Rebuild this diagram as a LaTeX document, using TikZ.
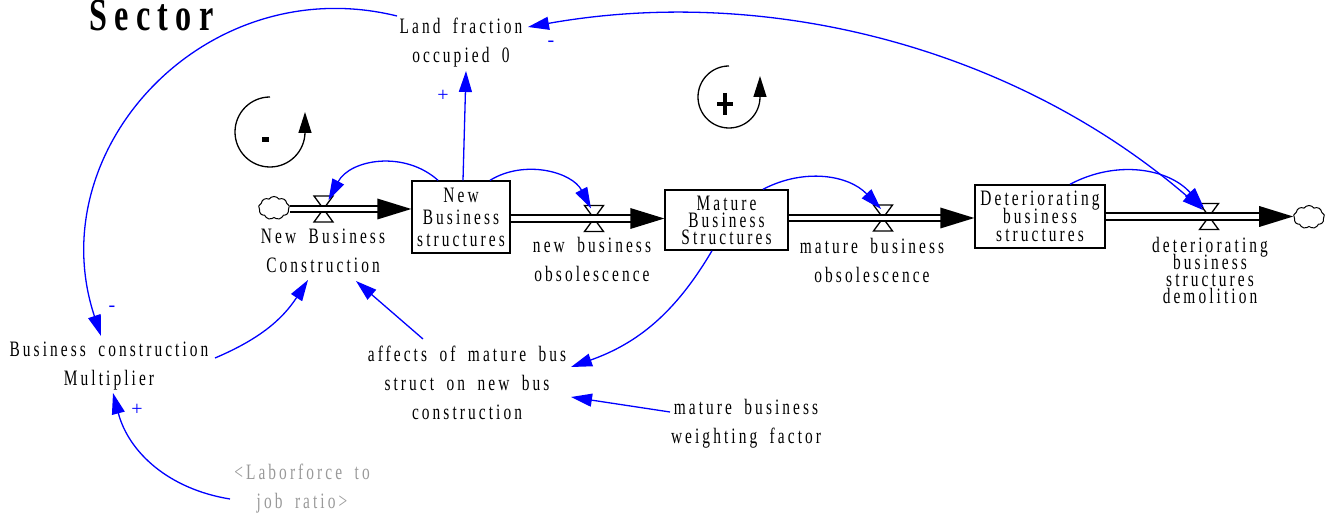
\documentclass[tikz,border=0pt]{standalone}
\usepackage{fontspec}
\setmainfont{Liberation Serif}
\newfontfamily\vfont[FakeStretch=0.7,LetterSpace=14,WordSpace=1.8]{Liberation Serif}
\newfontfamily\tfont[FakeStretch=0.7,LetterSpace=16]{Liberation Serif}
\usetikzlibrary{arrows.meta,shapes.symbols,calc}
\lineskiplimit=-40pt
\begin{document}
\begin{tikzpicture}[x=1pt,y=-1pt,
  lbl/.style={font=\vfont\fontsize{22}{29}\selectfont, align=center, inner sep=0pt},
  stock/.style={draw, line width=1.4pt, inner sep=0pt, align=center},
  pipe/.style={draw=black, line width=1.8pt, double=white, double distance=4.5pt},
  link/.style={draw=blue, line width=1.3pt, -{Triangle[length=21pt,width=13pt]}},
  sign/.style={text=blue, font=\fontsize{20}{20}\selectfont, inner sep=0pt},
  cloudsym/.style={cloud, cloud puffs=9, cloud puff arc=110, aspect=1.3, draw, line width=1pt,
    minimum width=31pt, minimum height=23pt, inner sep=0pt},
  loopline/.style={draw=black, line width=1.3pt, -{Triangle[length=21pt,width=13pt]}},
  valve/.pic={\draw[line width=1.3pt, fill=white, line join=miter]
    (-9.5,-13) -- (9.5,-13) -- (-9.5,13) -- (9.5,13) -- cycle;}
]
\useasboundingbox (0,0) rectangle (1330,518);

% title
\node[font=\tfont\bfseries\fontsize{46}{46}\selectfont, anchor=base west, inner sep=0pt] (title) at (89,31) {Sector};

% stocks
\node[stock, minimum width=98pt, minimum height=72pt, font=\vfont\fontsize{22}{22}\selectfont] (nbs) at (461,217) {New\\Business\\structures};
\node[stock, minimum width=123pt, minimum height=60pt, font=\vfont\fontsize{22}{17}\selectfont] (mbs) at (726.5,220) {Mature\\Business\\Structures};
\node[stock, minimum width=130pt, minimum height=63pt, font=\vfont\fontsize{22}{18}\selectfont] (dbs) at (1040,216.5) {Deteriorating\\business\\structures};

% clouds
\node[cloudsym] (c1) at (274,208) {};
\node[cloudsym] (c2) at (1309,217) {};

% valves
\coordinate (v1) at (323.5,209);
\coordinate (v2) at (594,218.5);
\coordinate (v3) at (883,218);
\coordinate (v4) at (1209,216.5);
\foreach \v in {v1,v2,v3,v4} \pic at (\v) {valve};

% pipes with flow arrowheads
\coordinate (t1) at (nbs.west |- v1);
\coordinate (t2) at (mbs.west |- v2);
\coordinate (t3) at (dbs.west |- v3);
\coordinate (t4) at (c2.west |- v4);
\draw[pipe] (c1.east |- v1) -- ($(t1)+(-30,0)$);
\draw[pipe] (nbs.east |- v2) -- ($(t2)+(-30,0)$);
\draw[pipe] (mbs.east |- v3) -- ($(t3)+(-30,0)$);
\draw[pipe] (dbs.east |- v4) -- ($(t4)+(-30,0)$);
\foreach \t in {t1,t2,t3,t4}
  \fill ($(\t)+(-34,-10.5)$) -- (\t) -- ($(\t)+(-34,10.5)$) -- cycle;

% auxiliary variables
\node[lbl] (landfrac) at (461,43) {Land fraction\\occupied 0};
\node[lbl] (nbc) at (323,251) {New Business\\Construction};
\node[lbl] (nbo) at (592,259) {new business\\obsolescence};
\node[lbl] (mbo) at (872,260) {mature business\\obsolescence};
\node[lbl, font=\vfont\fontsize{22}{17}\selectfont] (dbsd) at (1210,270) {deteriorating\\business\\structures\\demolition};
\node[lbl] (bcm) at (109,366) {Business construction\\Multiplier};
\node[lbl] (affects) at (467,383) {affects of mature bus\\struct on new bus\\construction};
\node[lbl] (mbwf) at (746,424) {mature business\\weighting factor};
\node[lbl, text=black!40] (labor) at (302,489) {<Laborforce to\\job ratio>};

% causal links
\draw[link] ($(nbs.north)+(-23,0)$) to[bend right=52, looseness=1.05] ($(v1)+(5,-9)$);
\draw[link] ($(nbs.north)+(29,0)$) to[bend left=47] ($(v2)+(-3,-10)$);
\draw[link] ($(mbs.north)+(36.5,0)$) to[bend left=37] ($(v3)+(-2,-9)$);
\draw[link] ($(dbs.north)+(30,0)$) to[bend left=38] ($(v4)+(-5,-8.5)$);
\draw[link] ($(nbs.north)+(2,0)$) -- ($(landfrac.center)+(5,28)$);
\draw[link] ($(landfrac.center)+(-64,-27)$) .. controls (206,-31) and (39,149) .. ($(bcm.center)+(-8,-30)$);
\draw[link, {Triangle[length=21pt,width=13pt]}-{Triangle[length=21pt,width=13pt]}]
  ($(landfrac.center)+(67,-16)$) .. controls (770,-16) and (1016,49) .. ($(v4)+(-6,-6.5)$);
\draw[link] ($(mbs.south)+(-14.5,0)$) to[bend left=20] ($(affects.center)+(104,-16)$);
\draw[link] ($(affects.center)+(-44,-44)$) -- ($(nbc.center)+(33,30)$);
\draw[link] ($(bcm.center)+(106,-8)$) to[bend right=17] ($(nbc.center)+(-15,29)$);
\draw[link] ($(labor.center)+(-72,10)$) to[bend left=33] ($(bcm.center)+(4,27)$);
\draw[link] ($(mbwf.center)+(-76,-12)$) -- ($(affects.center)+(104,14)$);

% link polarities
\node[sign] (s1) at (443,96) {+};
\node[sign] (s2) at (551,44) {-};
\node[sign] (s3) at (112,309) {-};
\node[sign] (s4) at (137,410) {+};

% loop markers
\draw[loopline] (270,97) arc[start angle=-90, end angle=-360, radius=35] -- ++(0,-20);
\fill (262,137) rectangle (269,142);
\draw[loopline] (729,66) arc[start angle=-90, end angle=-360, radius=31] -- ++(0,-21);
\draw[line width=3.5pt] (717,104) -- (733,104) (725,93) -- (725,115);
\end{tikzpicture}
\end{document}
